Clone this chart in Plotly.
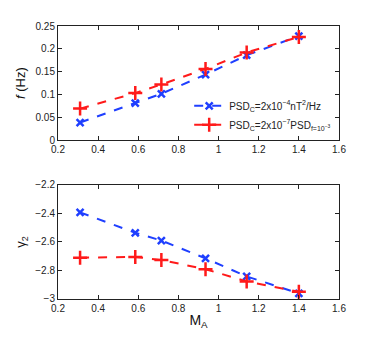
import plotly.graph_objects as go
from plotly.subplots import make_subplots

ma = [0.31, 0.585, 0.715, 0.935, 1.14, 1.40]
f_blue = [0.0385, 0.081, 0.1015, 0.1435, 0.186, 0.228]
f_red = [0.069, 0.103, 0.122, 0.156, 0.192, 0.226]
g_blue = [-2.393, -2.536, -2.59, -2.715, -2.842, -2.96]
g_red = [-2.71, -2.705, -2.727, -2.791, -2.877, -2.949]

name_blue = "PSD<sub>C</sub>=2x10<sup>−4</sup>nT<sup>2</sup>/Hz"
name_red = "PSD<sub>C</sub>=2x10<sup>−7</sup>PSD<sub>f=10<sup>−3</sup></sub>"

fig = make_subplots(rows=2, cols=1)

blue = "#1f3fff"
red = "#ff1a1a"
bx = dict(symbol="x-thin", size=7, line=dict(color=blue, width=2.5))
rx = dict(symbol="cross-thin", size=10, line=dict(color=red, width=2.5))

fig.add_trace(go.Scatter(x=ma, y=f_blue, mode="lines+markers", name=name_blue,
                         line=dict(color=blue, dash="dash", width=2), marker=bx),
              row=1, col=1)
fig.add_trace(go.Scatter(x=ma, y=f_red, mode="lines+markers", name=name_red,
                         line=dict(color=red, dash="dash", width=2), marker=rx),
              row=1, col=1)
fig.add_trace(go.Scatter(x=ma, y=g_blue, mode="lines+markers", showlegend=False,
                         line=dict(color=blue, dash="dash", width=2), marker=bx),
              row=2, col=1)
fig.add_trace(go.Scatter(x=ma, y=g_red, mode="lines+markers", showlegend=False,
                         line=dict(color=red, dash="dash", width=2), marker=rx),
              row=2, col=1)

axis_style = dict(showgrid=False, zeroline=False, showline=True, linecolor="#222", linewidth=1,
                  mirror="ticks", ticks="inside", ticklen=4, tickcolor="#222",
                  tickfont=dict(size=10, color="#222"))

fig.update_xaxes(range=[0.2, 1.6], dtick=0.2, tickformat=".1~f", **axis_style)
fig.update_xaxes(title=dict(text="M<sub>A</sub>", font=dict(size=14, color="#111"), standoff=2), row=2, col=1)
fig.update_yaxes(range=[0, 0.25], dtick=0.05, row=1, col=1,
                 title=dict(text="<i>f</i> (Hz)", font=dict(size=13, color="#111"), standoff=6), **axis_style)
fig.update_yaxes(range=[-3, -2.2], dtick=0.2, row=2, col=1,
                 title=dict(text="γ<sub>2</sub>", font=dict(size=13, color="#111"), standoff=6), **axis_style)

# page body has an 8px default margin, so the figure is sized to fit the window
fig.update_layout(
    width=366, height=330,
    margin=dict(l=41, r=35, t=17, b=38),
    paper_bgcolor="white", plot_bgcolor="white",
    font=dict(family="Liberation Sans, Arial, sans-serif"),
    xaxis=dict(domain=[0, 1]), yaxis=dict(domain=[0.582, 1]),
    xaxis2=dict(domain=[0, 1]), yaxis2=dict(domain=[0, 0.418]),
    legend=dict(x=0.99, y=0.585, xanchor="right", yanchor="bottom",
                bgcolor="rgba(0,0,0,0)", font=dict(size=10, color="#222"),
                tracegroupgap=0, itemwidth=30),
)

fig.write_html("out.html")
